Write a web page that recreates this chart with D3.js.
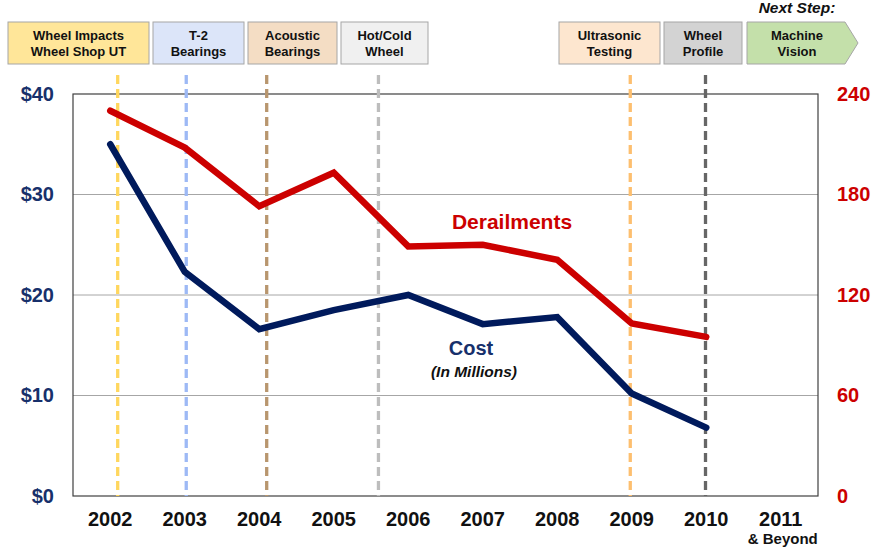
<!DOCTYPE html>
<html>
<head>
    <title>Wheel Technology: Cost and Derailments</title>
    <script src="https://d3js.org/d3.v7.min.js"></script>
    <style>
        body { margin: 0; background: #fff; }
        text { font-family: "Liberation Sans", Arial, sans-serif; font-weight: bold; }
    </style>
</head>
<body>
    <svg id="chart" width="876" height="549"></svg>
    <script>
        // data
        const years = ["2002", "2003", "2004", "2005", "2006", "2007", "2008", "2009", "2010", "2011"];
        const costYears = [2002, 2003, 2004, 2005, 2006, 2007, 2008, 2009, 2010];
        const cost = [35.0, 22.3, 16.6, 18.5, 20.0, 17.1, 17.8, 10.2, 6.8];
        const derailments = [230, 208, 173, 193, 149, 150, 141, 103, 95];
        const costTicks = [0, 10, 20, 30, 40];
        const derailTicks = [0, 60, 120, 180, 240];

        // technology milestones (position in years, box label lines)
        const milestones = [
            { at: 2002.1, lines: ["Wheel Impacts", "Wheel Shop UT"], fill: "#FFE699", dash: "#FFD75E" },
            { at: 2003.02, lines: ["T-2", "Bearings"], fill: "#DCE5F9", dash: "#9DB9F5" },
            { at: 2004.1, lines: ["Acoustic", "Bearings"], fill: "#F4DDC4", dash: "#B8966E" },
            { at: 2005.6, lines: ["Hot/Cold", "Wheel"], fill: "#F0F0F0", dash: "#BDBDBD" },
            { at: 2008.98, lines: ["Ultrasonic", "Testing"], fill: "#FDE6CF", dash: "#FDBF6F" },
            { at: 2009.99, lines: ["Wheel", "Profile"], fill: "#D3D3D3", dash: "#666666" }
        ];
        const boxX = [[8, 149], [153, 244], [248, 337], [341, 428], [559, 660], [664, 742]];

        const svg = d3.select("#chart");
        const pLeft = 73, pRight = 818, pTop = 94, pBottom = 496;

        const xBand = d3.scaleBand().domain(years).range([pLeft, pRight]);
        const xYear = d3.scaleLinear()
            .domain([2002, 2011])
            .range([xBand("2002") + xBand.bandwidth() / 2, xBand("2011") + xBand.bandwidth() / 2]);
        const yCost = d3.scaleLinear().domain([0, 40]).range([pBottom, pTop]);
        const yDer = d3.scaleLinear().domain([0, 240]).range([pBottom, pTop]);

        // grid
        svg.append("g").selectAll("line")
            .data([10, 20, 30]).enter().append("line")
            .attr("x1", pLeft).attr("x2", pRight)
            .attr("y1", d => yCost(d)).attr("y2", d => yCost(d))
            .attr("stroke", "#A6A6A6").attr("stroke-width", 1);

        // frame
        svg.append("rect")
            .attr("x", pLeft).attr("y", pTop)
            .attr("width", pRight - pLeft).attr("height", pBottom - pTop)
            .attr("fill", "none").attr("stroke", "#404040").attr("stroke-width", 1.2);

        // milestone dashed lines
        svg.append("g").selectAll("line")
            .data(milestones).enter().append("line")
            .attr("x1", d => xYear(d.at)).attr("x2", d => xYear(d.at))
            .attr("y1", 75).attr("y2", pBottom)
            .attr("stroke", d => d.dash).attr("stroke-width", 3.3)
            .attr("stroke-dasharray", "9,5");

        // milestone boxes
        const boxes = svg.append("g").selectAll("g")
            .data(milestones).enter().append("g");
        boxes.append("rect")
            .attr("x", (d, i) => boxX[i][0]).attr("y", 22)
            .attr("width", (d, i) => boxX[i][1] - boxX[i][0]).attr("height", 42)
            .attr("fill", d => d.fill).attr("stroke", "#A6A6A6").attr("stroke-width", 1);
        boxes.each(function(d, i) {
            const cx = (boxX[i][0] + boxX[i][1]) / 2;
            d3.select(this).selectAll("text")
                .data(d.lines).enter().append("text")
                .attr("x", cx).attr("y", (t, j) => 40 + j * 16)
                .attr("text-anchor", "middle").attr("font-size", 13).attr("fill", "#111")
                .text(t => t);
        });

        // next step arrow
        svg.append("path")
            .attr("d", "M747,22 L845,22 L858,43 L845,64 L747,64 Z")
            .attr("fill", "#C4E0AA").attr("stroke", "#A6A6A6").attr("stroke-width", 1);
        svg.selectAll(".next").data(["Machine", "Vision"]).enter().append("text")
            .attr("class", "next")
            .attr("x", 797).attr("y", (t, j) => 40 + j * 16)
            .attr("text-anchor", "middle").attr("font-size", 13).attr("fill", "#111")
            .text(t => t);
        svg.append("text")
            .attr("x", 797).attr("y", 13)
            .attr("text-anchor", "middle").attr("font-size", 15.5)
            .attr("font-style", "italic").attr("fill", "#111")
            .text("Next Step:");

        // lines
        const costLine = d3.line().x((d, i) => xYear(costYears[i])).y(d => yCost(d));
        const derLine = d3.line().x((d, i) => xYear(costYears[i])).y(d => yDer(d));
        svg.append("path").datum(derailments)
            .attr("d", derLine).attr("fill", "none")
            .attr("stroke", "#CC0000").attr("stroke-width", 6.5)
            .attr("stroke-linecap", "round").attr("stroke-linejoin", "miter");
        svg.append("path").datum(cost)
            .attr("d", costLine).attr("fill", "none")
            .attr("stroke", "#001A5C").attr("stroke-width", 6.5)
            .attr("stroke-linecap", "round").attr("stroke-linejoin", "miter");

        // axes
        const leftAxis = d3.axisLeft(yCost).tickValues(costTicks).tickSize(0).tickPadding(19)
            .tickFormat(d => "$" + d);
        const gl = svg.append("g").attr("transform", `translate(${pLeft},0)`).call(leftAxis);
        gl.select(".domain").remove();
        gl.selectAll("text").attr("font-size", 20).attr("fill", "#17306B")
            .attr("font-family", "Liberation Sans, Arial, sans-serif");

        const rightAxis = d3.axisRight(yDer).tickValues(derailTicks).tickSize(0).tickPadding(19);
        const gr = svg.append("g").attr("transform", `translate(${pRight},0)`).call(rightAxis);
        gr.select(".domain").remove();
        gr.selectAll("text").attr("font-size", 20).attr("fill", "#CC0000")
            .attr("font-family", "Liberation Sans, Arial, sans-serif");

        const bottomAxis = d3.axisBottom(xBand).tickSize(0).tickPadding(16);
        const gb = svg.append("g").attr("transform", `translate(0,${pBottom})`).call(bottomAxis);
        gb.select(".domain").remove();
        gb.selectAll("text").attr("font-size", 20).attr("fill", "#111")
            .attr("font-family", "Liberation Sans, Arial, sans-serif");
        svg.append("text")
            .attr("x", xBand("2011") + xBand.bandwidth() / 2 + 2).attr("y", 544)
            .attr("text-anchor", "middle").attr("font-size", 15).attr("fill", "#111")
            .text("& Beyond");

        // series labels
        svg.append("text").attr("x", 512).attr("y", 229)
            .attr("text-anchor", "middle").attr("font-size", 21).attr("fill", "#CC0000")
            .text("Derailments");
        svg.append("text").attr("x", 471).attr("y", 355)
            .attr("text-anchor", "middle").attr("font-size", 20).attr("fill", "#17306B")
            .text("Cost");
        svg.append("text").attr("x", 474).attr("y", 377)
            .attr("text-anchor", "middle").attr("font-size", 15.5).attr("font-style", "italic")
            .attr("fill", "#111")
            .text("(In Millions)");
    </script>
</body>
</html>
